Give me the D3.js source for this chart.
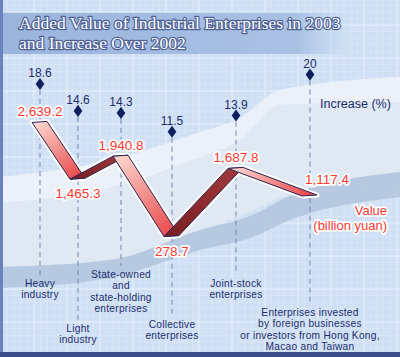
<!DOCTYPE html>
<html>
<head>
<meta charset="utf-8">
<script src="https://cdn.jsdelivr.net/npm/d3@7"></script>
<style>
  html, body { margin: 0; padding: 0; background: #cfe0f4; }
  svg { display: block; }
</style>
</head>
<body>
<svg id="chart" width="400" height="357"></svg>
<script>
// ---------------- DATA ----------------
const categories = [
  "Heavy industry",
  "Light industry",
  "State-owned and state-holding enterprises",
  "Collective enterprises",
  "Joint-stock enterprises",
  "Enterprises invested by foreign businesses or investors from Hong Kong, Macao and Taiwan"
];
const categoryLines = [
  ["Heavy", "industry"],
  ["Light", "industry"],
  ["State-owned", "and", "state-holding", "enterprises"],
  ["Collective", "enterprises"],
  ["Joint-stock", "enterprises"],
  ["Enterprises invested", "by foreign businesses", "or investors from Hong Kong,", "Macao and Taiwan"]
];
const values = [2639.2, 1465.3, 1940.8, 278.7, 1687.8, 1117.4];       // billion yuan
const increase = [18.6, 14.6, 14.3, 11.5, 13.9, 20];                   // %
const titleLines = ["Added Value of Industrial Enterprises in 2003", "and Increase Over 2002"];
const increaseLegend = "Increase (%)";
const valueLegend = ["Value", "(billion yuan)"];

// ---------------- LAYOUT ----------------
const W = 400, H = 357;
const catX = [40, 78, 121, 172, 236, 310];          // illustrated column positions
const labelBaseline = [287, 332, 278, 328, 287, 316];
const lineH = 11.4;

const svg = d3.select("#chart");
const defs = svg.append("defs");

const x = d3.scaleOrdinal().domain(categories).range(catX);
const yInc = d3.scaleLinear().domain([0, 20]).range([209, 74.6]);
const yVal = d3.scaleLinear().domain([0, 3000]).range([250, 105]);

// ---------------- BACKGROUND ----------------
svg.append("rect").attr("width", W).attr("height", H).attr("fill", "#cfe0f4");

// decorative bands (background illustration)
const areaGen = d3.area().x(d => d[0]).y0(d => d[1]).y1(d => d[2]).curve(d3.curveMonotoneX);
const paleBand = [[0,203,267],[110,188,260],[200,157,230],[240,140,216],[280,105,198],[400,102,172]];
const whiteBand = [[0,177,203],[110,160,188],[200,132,157],[240,118,140],[280,90,105],[400,77,102]];
const darkBand = [[0,267,288],[110,260,278],[200,230,250],[250,216,238],[290,196,220],[400,172,197]];

// grid
const grid = svg.append("g");
for (let gx = 1; gx <= W; gx += 6.6) {
  const major = Math.round((gx - 1) / 6.6) % 5 === 0;
  grid.append("line").attr("x1", gx).attr("x2", gx).attr("y1", 0).attr("y2", H)
    .attr("stroke", major ? "#e9f1fb" : "#dae7f7").attr("stroke-width", major ? 1 : 0.8);
}
for (let gy = 25 - 6.6 * 3; gy <= H; gy += 6.6) {
  const major = Math.round((gy - 25) / 6.6) % 5 === 0;
  grid.append("line").attr("y1", gy).attr("y2", gy).attr("x1", 0).attr("x2", W)
    .attr("stroke", major ? "#e9f1fb" : "#dae7f7").attr("stroke-width", major ? 1 : 0.8);
}

svg.append("path").attr("d", areaGen(paleBand)).attr("fill", "#e2e9f2").attr("opacity", 0.85);
svg.append("path").attr("d", areaGen(whiteBand)).attr("fill", "#edf2f9").attr("opacity", 0.9);
svg.append("path").attr("d", areaGen(darkBand)).attr("fill", "#b5c7de").attr("opacity", 0.95);

// title band
const tg = defs.append("linearGradient").attr("id", "titleGrad").attr("x1", 0).attr("x2", 1);
tg.append("stop").attr("offset", 0).attr("stop-color", "#9bb4dc");
tg.append("stop").attr("offset", 0.85).attr("stop-color", "#aac1e4");
tg.append("stop").attr("offset", 1).attr("stop-color", "#b8cdec").attr("stop-opacity", 0);
svg.append("rect").attr("x", 0).attr("y", 13).attr("width", 350).attr("height", 41).attr("fill", "url(#titleGrad)");

// frame
svg.append("rect").attr("x", 0).attr("y", 0).attr("width", 3).attr("height", H).attr("fill", "#6a82bd");
svg.append("rect").attr("x", 0).attr("y", 352).attr("width", W).attr("height", 5).attr("fill", "#3d4f8a");

// title
const title = svg.append("g").attr("font-family", "'Liberation Serif', 'Times New Roman', serif")
  .attr("font-size", 17.5);
titleLines.forEach((t, i) => {
  title.append("text").attr("x", 19).attr("y", 29 + i * 20).text(t)
    .attr("fill", "#ffffff").attr("stroke", "#4d5f95").attr("stroke-width", 2.4)
    .attr("stroke-linejoin", "round").attr("paint-order", "stroke");
});

// ---------------- DASHED GUIDES ----------------
const guides = svg.append("g");
categories.forEach((c, i) => {
  guides.append("line")
    .attr("x1", x(c)).attr("x2", x(c))
    .attr("y1", yInc(increase[i]) + 6)
    .attr("y2", labelBaseline[i] - 12)
    .attr("stroke", "#7385ad").attr("stroke-width", 1).attr("stroke-dasharray", "5,4");
});

// ---------------- INCREASE (diamonds) ----------------
const diamond = d3.symbol().type(d3.symbolDiamond).size(42);
const inc = svg.append("g");
categories.forEach((c, i) => {
  inc.append("path").attr("d", diamond)
    .attr("transform", `translate(${x(c)},${yInc(increase[i])}) scale(1.25,1)`)
    .attr("fill", "#0f1f5e");
  inc.append("text").attr("x", x(c)).attr("y", yInc(increase[i]) - 7)
    .attr("text-anchor", "middle").attr("font-family", "'Liberation Sans', Arial, sans-serif")
    .attr("font-size", 12).attr("fill", "#1d2d6e").text(String(increase[i]));
});
svg.append("text").attr("x", 320).attr("y", 108).text(increaseLegend)
  .attr("font-family", "'Liberation Sans', Arial, sans-serif").attr("font-size", 12.5).attr("fill", "#1d2d6e");

// ---------------- VALUE RIBBON ----------------
const pts = categories.map((c, i) => ({ x: x(c), y: yVal(values[i]) }));
const front = p => [p.x - 8, p.y];
const back = p => [p.x + 7, p.y - 1];
const segs = d3.pairs(pts).map(([a, b], i) => ({
  poly: [front(a), front(b), back(b), back(a)],
  down: b.y > a.y, a, b, i
}));
const lineGen = d3.line();
const ribbon = svg.append("g");
segs.forEach(s => {
  ribbon.append("path").attr("d", lineGen(s.poly) + "Z")
    .attr("fill", "#fff").attr("stroke", "#fff").attr("stroke-width", 5).attr("stroke-linejoin", "round");
});
segs.forEach(s => {
  const g = defs.append("linearGradient").attr("id", "seg" + s.i)
    .attr("gradientUnits", "userSpaceOnUse")
    .attr("x1", s.a.x).attr("y1", s.a.y).attr("x2", s.b.x).attr("y2", s.b.y);
  if (s.down) {
    g.append("stop").attr("offset", 0).attr("stop-color", "#fcd3cb");
    g.append("stop").attr("offset", 1).attr("stop-color", "#e9464a");
  } else {
    g.append("stop").attr("offset", 0).attr("stop-color", "#7c1f22");
    g.append("stop").attr("offset", 1).attr("stop-color", "#a0383a");
  }
  ribbon.append("path").attr("d", lineGen(s.poly) + "Z")
    .attr("fill", `url(#seg${s.i})`).attr("stroke", "#2b2455").attr("stroke-width", 1)
    .attr("stroke-linejoin", "round");
});

// value labels
const fmt = d3.format(",.1f");
const vl = svg.append("g").attr("font-family", "'Liberation Sans', Arial, sans-serif")
  .attr("font-size", 13.5).attr("text-anchor", "middle");
pts.forEach((p, i) => {
  const n = pts.length;
  const isMin = i > 0 && i < n - 1 && values[i] < values[i - 1] && values[i] < values[i + 1];
  const isLast = i === n - 1;
  const lx = isLast ? p.x + 17 : p.x;
  const ly = isMin ? p.y + 19 : (isLast ? p.y - 12 : p.y - 6);
  vl.append("text").attr("x", lx).attr("y", ly).text(fmt(values[i]))
    .attr("fill", "#ff3a33").attr("stroke", "#ffffff").attr("stroke-width", 3.5)
    .attr("stroke-linejoin", "round").attr("paint-order", "stroke");
});
valueLegend.forEach((t, i) => {
  svg.append("text").attr("x", 387).attr("y", 215 + i * 15).attr("text-anchor", "end").text(t)
    .attr("font-family", "'Liberation Sans', Arial, sans-serif").attr("font-size", 13)
    .attr("fill", "#ff3a33").attr("stroke", "#ffffff").attr("stroke-width", 3.5)
    .attr("stroke-linejoin", "round").attr("paint-order", "stroke");
});

// ---------------- CATEGORY LABELS ----------------
const cl = svg.append("g").attr("font-family", "'Liberation Sans', Arial, sans-serif")
  .attr("font-size", 10.2).attr("letter-spacing", 0.25).attr("fill", "#1d2d6e").attr("text-anchor", "middle");
categories.forEach((c, i) => {
  categoryLines[i].forEach((ln, j) => {
    cl.append("text").attr("x", x(c)).attr("y", labelBaseline[i] + j * lineH).text(ln);
  });
});
</script>
</body>
</html>
